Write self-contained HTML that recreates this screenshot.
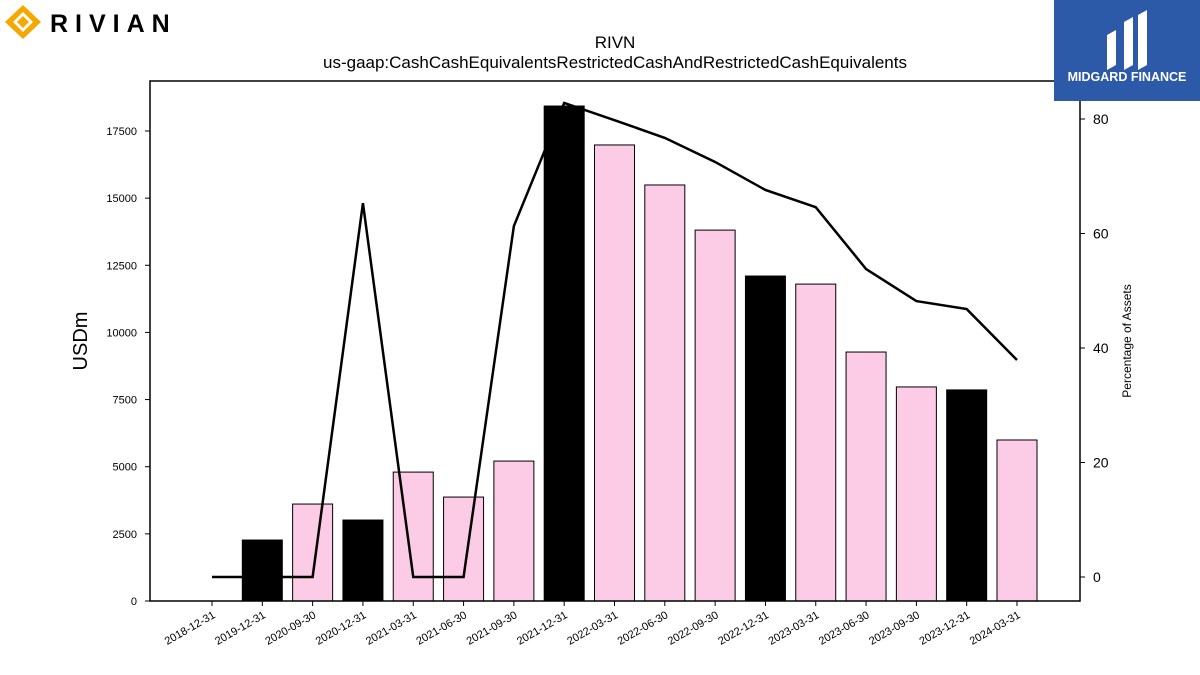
<!DOCTYPE html>
<html><head><meta charset="utf-8"><style>
body{margin:0;background:#fff;font-family:"Liberation Sans","DejaVu Sans",sans-serif}
#wrap{position:relative;width:1200px;height:675px;overflow:hidden}
</style></head><body><div id="wrap">
<svg id="chart" width="1200" height="675" xmlns="http://www.w3.org/2000/svg"></svg>
</div>
<script>
const categories=["2018-12-31","2019-12-31","2020-09-30","2020-12-31","2021-03-31","2021-06-30","2021-09-30","2021-12-31","2022-03-31","2022-06-30","2022-09-30","2022-12-31","2023-03-31","2023-06-30","2023-09-30","2023-12-31","2024-03-31"];
const cashValues=[0,2270,3610,3015,4800,3870,5210,18430,16980,15490,13810,12100,11800,9270,7970,7860,5995];
const annualFlags=[1,1,0,1,0,0,0,1,0,0,0,1,0,0,0,1,0];
const pctAssets=[0,0,0,65.3,0,0,61.3,82.8,79.8,76.7,72.5,67.6,64.6,53.8,48.2,46.8,37.9];
const leftTicks=[0,2500,5000,7500,10000,12500,15000,17500];
const rightTicks=[0,20,40,60,80];

const svg=document.getElementById('chart');
const NS='http://www.w3.org/2000/svg';
function mk(tag,attrs,parent){const e=document.createElementNS(NS,tag);for(const k in attrs)e.setAttribute(k,attrs[k]);(parent||svg).appendChild(e);return e;}
const X0=150,X1=1080,Y0=81,Y1=601;
const xPos=i=>212+i*(1017-212)/16;
const yL=v=>601-v*(470/17500);
const yR=v=>577-v*(458/80);

// title
let t=mk('text',{x:615,y:48,'text-anchor':'middle','font-size':17});t.textContent='RIVN';

t=mk('text',{x:615,y:68,'text-anchor':'middle','font-size':17});t.textContent='us-gaap:CashCashEquivalentsRestrictedCashAndRestrictedCashEquivalents';


// bars
categories.forEach((c,i)=>{
  const v=cashValues[i]; if(v<=0) return;
  const r=mk('rect',{x:xPos(i)-20,y:yL(v),width:40,height:601-yL(v),fill:annualFlags[i]?'#000':'#fccbe5',stroke:'#000','stroke-width':1});
  
  
});
// line
const pts=pctAssets.map((p,i)=>xPos(i)+','+yR(p)).join(' ');
const ln=mk('polyline',{points:pts,fill:'none',stroke:'#000','stroke-width':2.5});


// frame
const fr=mk('rect',{x:X0,y:Y0,width:X1-X0,height:Y1-Y0,fill:'none',stroke:'#000','stroke-width':1.5});

// left ticks
leftTicks.forEach(v=>{
  mk('line',{x1:X0-5,x2:X0,y1:yL(v),y2:yL(v),stroke:'#000'});
  const tx=mk('text',{x:X0-13,y:yL(v)+4,'text-anchor':'end','font-size':11});tx.textContent=v;
  
});
rightTicks.forEach(v=>{
  mk('line',{x1:X1,x2:X1+5,y1:yR(v),y2:yR(v),stroke:'#000'});
  const tx=mk('text',{x:X1+13,y:yR(v)+5,'font-size':14});tx.textContent=v;
  
});
categories.forEach((c,i)=>{
  mk('line',{x1:xPos(i),x2:xPos(i),y1:Y1,y2:Y1+5,stroke:'#000'});
  const tx=mk('text',{x:xPos(i)+4,y:Y1+16,'text-anchor':'end','font-size':11,transform:`rotate(-30 ${xPos(i)+4} ${Y1+16})`});tx.textContent=c;
  
});
t=mk('text',{x:87,y:341,'text-anchor':'middle','font-size':20,transform:'rotate(-90 87 341)'});t.textContent='USDm';

t=mk('text',{x:1131,y:341,'text-anchor':'middle','font-size':12,transform:'rotate(-90 1131 341)'});t.textContent='Percentage of Assets';


// Rivian logo
const lg=mk('g',{});
mk('polygon',{points:'23,5 41,22 23,39 5,22',fill:'#f5a800'},lg);
mk('polygon',{points:'23,12 33,22 23,32 13,22',fill:'#fff'},lg);
mk('polygon',{points:'23,16 29,22 23,28 17,22',fill:'#f5a800'},lg);
t=mk('text',{x:50,y:32,'font-size':25,'font-weight':'bold','letter-spacing':'7'},lg);t.textContent='RIVIAN';
// Midgard box
const mg=mk('g',{});
mk('rect',{x:1054,y:0,width:146,height:101,fill:'#2d5aa8'},mg);
mk('path',{d:'M1107,70 L1107,35 L1116,30 L1116,65 Z M1124,70 L1124,22 L1133,17 L1133,65 Z M1138,70 L1138,15 L1147,10 L1147,65 Z',fill:'#fff'},mg);
t=mk('text',{x:1127,y:81,'text-anchor':'middle','font-size':12.5,'font-weight':'bold',fill:'#fff'},mg);t.textContent='MIDGARD FINANCE';
</script></body></html>
